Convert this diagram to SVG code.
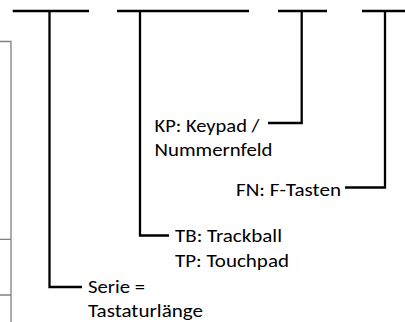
<svg xmlns="http://www.w3.org/2000/svg" width="405" height="322" viewBox="0 0 405 322">
  <style>
    .bar { stroke: #000; stroke-width: 2.3; fill: none; stroke-linecap: butt; }
    .conn { stroke: #000; stroke-width: 2.3; fill: none; stroke-linejoin: miter; }
    .tbl { stroke: #808080; stroke-width: 1.3; fill: none; }
    .lbl { font-family: Carlito, Calibri, Lato, "Open Sans", sans-serif; font-size: 19px; fill: #000; }
  </style>
  <rect width="405" height="322" fill="#fff"/>
  <g id="table">
    <path class="tbl" d="M0 41.5 H11 V322 M0 239.3 H11 M0 295 H11"/>
  </g>
  <g id="segments">
    <path class="bar" d="M12.7 11 H89"/>
    <path class="bar" d="M117 11 H249"/>
    <path class="bar" d="M278 11 H327"/>
    <path class="bar" d="M362 11 H405"/>
  </g>
  <g id="connectors">
    <path class="conn" d="M49.5 11 V287 H82"/>
    <path class="conn" d="M140 11 V235.5 H169"/>
    <path class="conn" d="M301.7 11 V123 H268"/>
    <path class="conn" d="M385 11 V187.5 H345"/>
  </g>
  <g id="kp">
    <text class="lbl" x="154.5" y="132" textLength="105" lengthAdjust="spacingAndGlyphs">KP: Keypad /</text>
    <text class="lbl" x="154.5" y="156" textLength="118" lengthAdjust="spacingAndGlyphs">Nummernfeld</text>
  </g>
  <g id="fn">
    <text class="lbl" x="236" y="196" textLength="105" lengthAdjust="spacingAndGlyphs">FN: F-Tasten</text>
  </g>
  <g id="tb">
    <text class="lbl" x="175" y="242" textLength="107" lengthAdjust="spacingAndGlyphs">TB: Trackball</text>
    <text class="lbl" x="175" y="267" textLength="114" lengthAdjust="spacingAndGlyphs">TP: Touchpad</text>
  </g>
  <g id="serie">
    <text class="lbl" x="88" y="293" textLength="57" lengthAdjust="spacingAndGlyphs">Serie =</text>
    <text class="lbl" x="88" y="317" textLength="115" lengthAdjust="spacingAndGlyphs">Tastaturlänge</text>
  </g>
</svg>
